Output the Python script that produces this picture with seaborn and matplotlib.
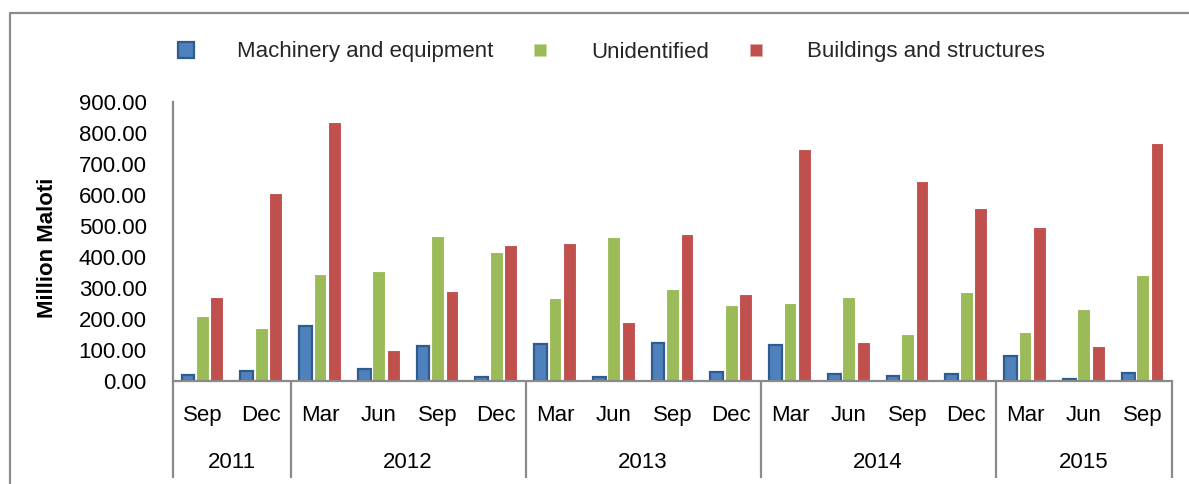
import matplotlib
matplotlib.use("Agg")
import matplotlib.pyplot as plt
import matplotlib.transforms as mtransforms
from matplotlib.lines import Line2D
import seaborn as sns
import pandas as pd

# ---- data ----
quarters = ["Sep", "Dec", "Mar", "Jun", "Sep", "Dec", "Mar", "Jun", "Sep",
            "Dec", "Mar", "Jun", "Sep", "Dec", "Mar", "Jun", "Sep"]
years = ["2011"] * 2 + ["2012"] * 4 + ["2013"] * 4 + ["2014"] * 4 + ["2015"] * 3
machinery = [18, 32, 179, 38, 113, 14, 119, 12, 121, 29, 115, 21, 16, 22, 82, 8, 26]
unidentified = [211, 170, 346, 354, 468, 415, 268, 465, 296, 245, 252, 271, 153, 288, 157, 231, 343]
buildings = [271, 605, 834, 99, 289, 440, 446, 190, 475, 282, 748, 125, 644, 558, 497, 114, 769]
series_names = ["Machinery and equipment", "Unidentified", "Buildings and structures"]
yticks = [0, 100, 200, 300, 400, 500, 600, 700, 800, 900]
ylabel = "Million Maloti"

colors = ["#4F81BD", "#9BBB59", "#C0504D"]
edges = ["#2F5C8F", "white", "white"]

keys = [f"{y} {q}" for y, q in zip(years, quarters)]
rows = []
for name, vals in zip(series_names, [machinery, unidentified, buildings]):
    for k, v in zip(keys, vals):
        rows.append({"key": k, "value": v, "series": name})
df = pd.DataFrame(rows)

sns.set_theme(style="white")
plt.rcParams["font.family"] = ["Liberation Sans", "DejaVu Sans"]
FS = 16

W, H = 1189, 484
fig = plt.figure(figsize=(W / 100, H / 100), dpi=100)
ax = fig.add_axes([173 / W, 1 - 381 / H, (1172 - 173) / W, (381 - 102) / H])

sns.barplot(data=df, x="key", y="value", hue="series", order=keys,
            hue_order=series_names, palette=colors, width=0.74, gap=0.12,
            ax=ax, legend=False, saturation=1)

for cont, ec in zip(ax.containers, edges):
    for p in cont.patches:
        p.set_edgecolor(ec)
        p.set_linewidth(1.6 if ec != "white" else 0.8)

ax.set_xlim(-0.5, len(keys) - 0.5)
ax.set_ylim(0, 900)
ax.set_yticks(yticks)
ax.set_yticklabels([f"{v:.2f}" for v in yticks])
ax.set_xticks(range(len(keys)))
ax.set_xticklabels(quarters)
ax.set_xlabel("")
ax.tick_params(axis="y", length=0, pad=19, labelsize=FS, colors="black")
ax.tick_params(axis="x", length=0, pad=17, labelsize=FS, colors="black")

axis_col = "#8A8A8A"
for s in ["top", "right"]:
    ax.spines[s].set_visible(False)
for s in ["left", "bottom"]:
    ax.spines[s].set_color(axis_col)
    ax.spines[s].set_linewidth(1.6)

ax.set_ylabel(ylabel, fontsize=FS, fontweight="bold", color="black")
ax.yaxis.set_label_coords(-0.115, 0.477)

# two-level category axis separators and year labels
trans = mtransforms.blended_transform_factory(ax.transData, ax.transAxes)
depth = -(478 - 381) / (381 - 102)
bounds = [-0.5]
start = 0
uniq_years = []
for y in years:
    if y not in uniq_years:
        uniq_years.append(y)
for y in uniq_years:
    n = years.count(y)
    end = start + n
    bounds.append(end - 0.5)
    ax.text((start + end - 1) / 2, -(463 - 381) / (381 - 102), y, transform=trans,
            ha="center", va="center", fontsize=FS, color="black")
    start = end
for b in bounds:
    ax.plot([b, b], [0, depth], transform=trans, color=axis_col, lw=1.6,
            clip_on=False, solid_capstyle="butt")

# legend
handles = [
    Line2D([], [], marker="s", linestyle="none", markersize=11,
           markerfacecolor=colors[0], markeredgecolor=edges[0], markeredgewidth=1.6),
    Line2D([], [], marker="s", linestyle="none", markersize=8.5,
           markerfacecolor=colors[1], markeredgecolor="#C9DBA8", markeredgewidth=0.6),
    Line2D([], [], marker="s", linestyle="none", markersize=8.5,
           markerfacecolor=colors[2], markeredgecolor="#E0A8A6", markeredgewidth=0.6),
]
fig.legend(handles, series_names, loc="center left",
           bbox_to_anchor=(175 / W, 1 - 52 / H), ncol=3, frameon=False,
           fontsize=FS, handlelength=1.0, handletextpad=1.8,
           columnspacing=1.6, borderpad=0, borderaxespad=0)

# outer frame (partially visible in the reference)
fig.add_artist(Line2D([10 / W, 1.0], [1 - 13 / H, 1 - 13 / H], transform=fig.transFigure,
                      color="#8C8C8C", lw=1.6))
fig.add_artist(Line2D([10 / W, 10 / W], [0, 1 - 13 / H], transform=fig.transFigure,
                      color="#8C8C8C", lw=1.6))

fig.savefig("out.png", dpi=100)
